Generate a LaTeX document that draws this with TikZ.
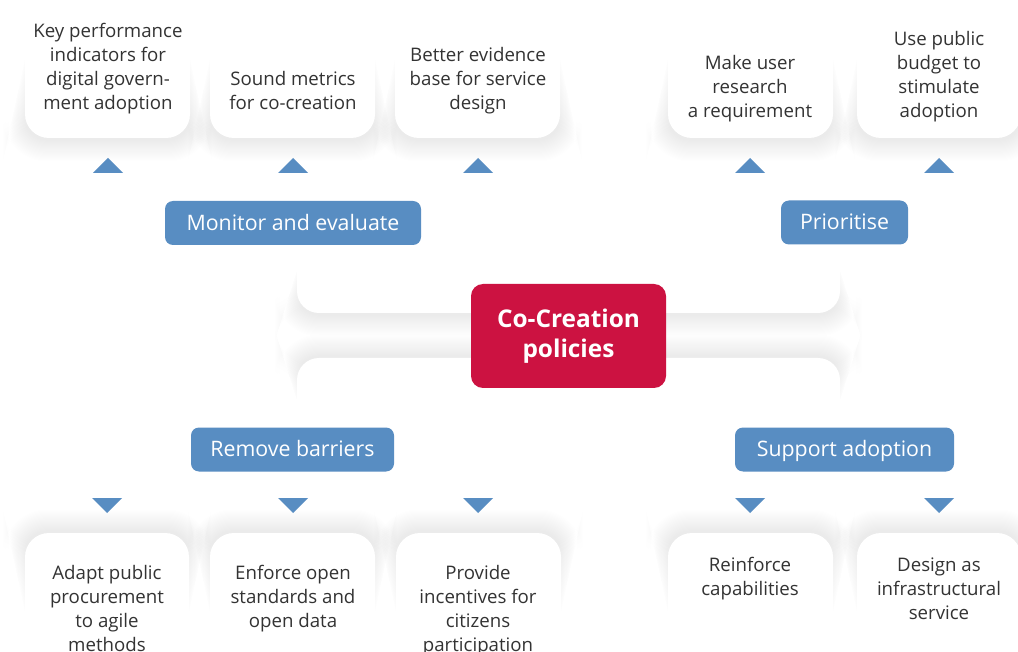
\documentclass[tikz,border=0pt]{standalone}
\usepackage{fontspec}
\setmainfont{Open Sans}
\definecolor{blueC}{RGB}{88,141,194}
\definecolor{redC}{RGB}{204,18,65}
\definecolor{txtC}{RGB}{51,51,51}
% soft shadow for a shape open upward (rounded bottom)
\newcommand\shadeTopBox[4]{%
  \foreach \i in {1,...,20}{%
    \pgfmathsetmacro\shE{\i*1.1}%
    \pgfmathsetmacro\shR{(22+\shE)*0.75}%
    \pgfmathsetmacro\shT{#3-#4+\i*#4/24}%
    \fill[black,opacity=0.0042,rounded corners=\shR pt] ({#1-\shE},\shT) rectangle ({#2+\shE},{#3+\shE+1.5});
  }}
% soft shadow for a shape open downward (rounded top)
\newcommand\shadeBotBox[4]{%
  \foreach \i in {1,...,20}{%
    \pgfmathsetmacro\shE{\i*1.1}%
    \pgfmathsetmacro\shR{(22+\shE)*0.75}%
    \pgfmathsetmacro\shT{#3+#4-\i*#4/24}%
    \fill[black,opacity=0.0042,rounded corners=\shR pt] ({#1-\shE},{#3-\shE-1.5}) rectangle ({#2+\shE},\shT);
  }}
\newcommand\upTri[2]{\fill[blueC] (#1-15,#2+7.5) -- (#1+15,#2+7.5) -- (#1,#2-7.5) -- cycle;}
\newcommand\dnTri[2]{\fill[blueC] (#1-15,#2-7.5) -- (#1+15,#2-7.5) -- (#1,#2+7.5) -- cycle;}
\newcommand\bodyFont{\fontsize{14}{18}\selectfont}
\begin{document}
\begin{tikzpicture}[x=0.75pt,y=-0.75pt,
  lab/.style={fill=blueC, text=white, rounded corners=6pt, minimum height=44*0.75pt,
              inner sep=0pt, text height=12pt, text depth=1pt,
              font=\fontsize{16}{18}\selectfont},
  core/.style={fill=redC, text=white, rounded corners=9pt, minimum width=195*0.75pt,
               minimum height=104*0.75pt, inner sep=0pt, align=center,
               font=\fontsize{18.3}{22.5}\selectfont\bfseries},
  txtn/.style={inner sep=0pt, text=txtC, font=\bodyFont},
  whitebox/.style={fill=white, rounded corners=18pt}]
\useasboundingbox (0,0) rectangle (1018,652);
\clip (0,0) rectangle (1018,652);
\fill[white] (0,0) rectangle (1018,652);

% ---- shadows ----
\shadeTopBox{25}{190}{138}{100}
\shadeTopBox{210}{375}{138}{100}
\shadeTopBox{395}{560}{138}{100}
\shadeTopBox{668}{833}{138}{100}
\shadeTopBox{857}{1021}{138}{100}
\shadeTopBox{297}{840}{313}{62}
\shadeBotBox{297}{840}{358}{62}
\shadeBotBox{25}{189}{533}{100}
\shadeBotBox{210}{375}{533}{100}
\shadeBotBox{396}{561}{533}{100}
\shadeBotBox{668}{833}{533}{100}
\shadeBotBox{857}{1021}{533}{100}

% ---- white shapes ----
\fill[whitebox] (25,-40) -- (25,138) -- (190,138) -- (190,-40) -- cycle;
\fill[whitebox] (210,-40) -- (210,138) -- (375,138) -- (375,-40) -- cycle;
\fill[whitebox] (395,-40) -- (395,138) -- (560,138) -- (560,-40) -- cycle;
\fill[whitebox] (668,-40) -- (668,138) -- (833,138) -- (833,-40) -- cycle;
\fill[whitebox] (857,-40) -- (857,138) -- (1021,138) -- (1021,-40) -- cycle;
\fill[whitebox, rounded corners=16.5pt] (297,230) -- (297,313) -- (840,313) -- (840,230) -- cycle;
\fill[whitebox, rounded corners=16.5pt] (297,440) -- (297,358) -- (840,358) -- (840,440) -- cycle;
\fill[whitebox] (25,700) -- (25,533) -- (189,533) -- (189,700) -- cycle;
\fill[whitebox] (210,700) -- (210,533) -- (375,533) -- (375,700) -- cycle;
\fill[whitebox] (396,700) -- (396,533) -- (561,533) -- (561,700) -- cycle;
\fill[whitebox] (668,700) -- (668,533) -- (833,533) -- (833,700) -- cycle;
\fill[whitebox] (857,700) -- (857,533) -- (1021,533) -- (1021,700) -- cycle;

% ---- centre and branch labels ----
\node[core] (core) at (568.5,336) {Co-Creation\\policies};
\node[lab, minimum width=256*0.75pt] (mon) at (293,223) {Monitor and evaluate};
\node[lab, minimum width=127*0.75pt] (pri) at (844.5,222.5) {Prioritise};
\node[lab, minimum width=203*0.75pt] (rem) at (292.5,449.5) {Remove barriers};
\node[lab, minimum width=219*0.75pt] (sup) at (844.5,449.5) {Support adoption};

% ---- triangles ----
\upTri{108}{165.5}
\upTri{293}{165.5}
\upTri{478}{165.5}
\upTri{750}{165.5}
\upTri{939}{165.5}
\dnTri{107}{505.5}
\dnTri{293}{505.5}
\dnTri{478}{505.5}
\dnTri{750}{505.5}
\dnTri{939}{505.5}

% ---- top texts ----
\node[txtn, anchor=base] (k1) at (108,110) {\begin{tabular}[b]{@{}c@{}}Key performance\\indicators for\\digital govern-\\ment adoption\end{tabular}};
\node[txtn, anchor=base] (k2) at (293,110) {\begin{tabular}[b]{@{}c@{}}Sound metrics\\for co-creation\end{tabular}};
\node[txtn, anchor=base] (k3) at (478,110) {\begin{tabular}[b]{@{}c@{}}Better evidence\\base for service\\design\end{tabular}};
\node[txtn, anchor=base] (k4) at (750,118) {\begin{tabular}[b]{@{}c@{}}Make user\\research\\a requirement\end{tabular}};
\node[txtn, anchor=base] (k5) at (939,118) {\begin{tabular}[b]{@{}c@{}}Use public\\budget to\\stimulate\\adoption\end{tabular}};

% ---- bottom texts ----
\node[txtn, anchor=base] (b1) at (107,579) {\begin{tabular}[t]{@{}c@{}}Adapt public\\procurement\\to agile\\methods\end{tabular}};
\node[txtn, anchor=base] (b2) at (293,579) {\begin{tabular}[t]{@{}c@{}}Enforce open\\standards and\\open data\end{tabular}};
\node[txtn, anchor=base] (b3) at (478,579) {\begin{tabular}[t]{@{}c@{}}Provide\\incentives for\\citizens\\participation\end{tabular}};
\node[txtn, anchor=base] (b4) at (750,571) {\begin{tabular}[t]{@{}c@{}}Reinforce\\capabilities\end{tabular}};
\node[txtn, anchor=base] (b5) at (939,571) {\begin{tabular}[t]{@{}c@{}}Design as\\infrastructural\\service\end{tabular}};
\end{tikzpicture}
\end{document}
